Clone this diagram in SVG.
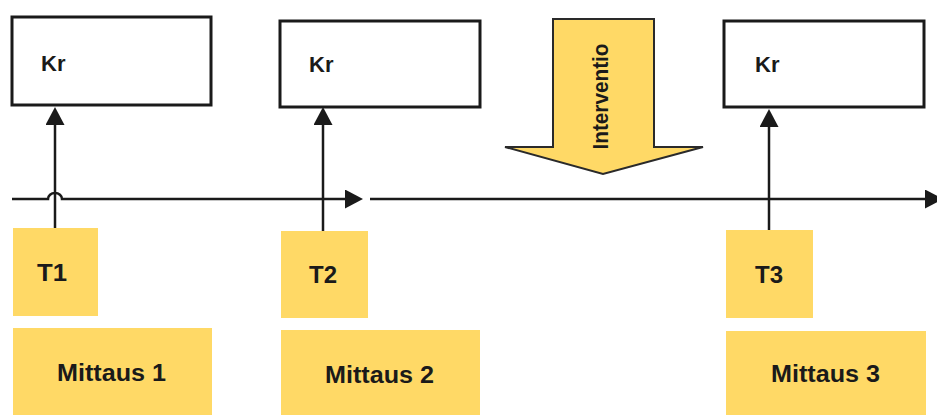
<svg xmlns="http://www.w3.org/2000/svg" width="937" height="415" viewBox="0 0 937 415">
  <style>
    .kr { fill: #ffffff; stroke: #1a1a1a; stroke-width: 3; }
    .tag { fill: #ffd966; stroke: none; }
    .lbl { font-family: "Liberation Sans", Arial, sans-serif; font-weight: bold; font-size: 22px; fill: #1a1a1a; }
    .big { font-size: 23px; }
    .line { fill: none; stroke: #1a1a1a; stroke-width: 2.5; }
    .shape-arrow { fill: #ffd966; stroke: #2a2a2a; stroke-width: 2; stroke-linejoin: miter; }
  </style>
  <defs>
    <marker id="head" markerUnits="userSpaceOnUse" markerWidth="18" markerHeight="19" refX="14" refY="9.5" orient="auto">
      <path d="M0,0 L18,9.5 L0,19 z" fill="#1a1a1a"/>
    </marker>
  </defs>

  <rect width="937" height="415" fill="#ffffff"/>

  <!-- timeline and measurement connectors -->
  <g id="connectors">
    <path class="line" d="M12,199 H48 A7,6 0 0 1 62,199 H359" marker-end="url(#head)"/>
    <path class="line" d="M370,199 H939" marker-end="url(#head)"/>
    <path class="line" d="M55,229 V111" marker-end="url(#head)"/>
    <path class="line" d="M323,232 V111" marker-end="url(#head)"/>
    <path class="line" d="M769,230 V113" marker-end="url(#head)"/>
  </g>

  <!-- outcome boxes -->
  <g id="kr1">
    <rect class="kr" x="12" y="17" width="199" height="88"/>
    <text class="lbl" x="41" y="71">Kr</text>
  </g>
  <g id="kr2">
    <rect class="kr" x="280" y="21" width="200" height="86"/>
    <text class="lbl" x="309" y="72">Kr</text>
  </g>
  <g id="kr3">
    <rect class="kr" x="724" y="21" width="200" height="86"/>
    <text class="lbl" x="755" y="72">Kr</text>
  </g>

  <!-- intervention block arrow -->
  <g id="interventio">
    <polygon class="shape-arrow" points="553,19 654,19 654,147 703,147 603,174 505,147 553,147"/>
    <text class="lbl" font-size="19" text-anchor="middle" textLength="106" lengthAdjust="spacingAndGlyphs" transform="translate(608,96.5) rotate(-90)">Interventio</text>
  </g>

  <!-- time points -->
  <g id="t1">
    <rect class="tag" x="13" y="228" width="85" height="88"/>
    <text class="lbl big" x="37" y="281" textLength="30" lengthAdjust="spacingAndGlyphs">T1</text>
  </g>
  <g id="t2">
    <rect class="tag" x="281" y="231" width="87" height="87"/>
    <text class="lbl big" x="309" y="283" textLength="28" lengthAdjust="spacingAndGlyphs">T2</text>
  </g>
  <g id="t3">
    <rect class="tag" x="726" y="230" width="87" height="88"/>
    <text class="lbl big" x="755" y="283" textLength="28" lengthAdjust="spacingAndGlyphs">T3</text>
  </g>

  <!-- measurement labels -->
  <g id="mittaus1">
    <rect class="tag" x="13" y="328" width="199" height="87"/>
    <text class="lbl big" x="57" y="381" textLength="109" lengthAdjust="spacingAndGlyphs">Mittaus 1</text>
  </g>
  <g id="mittaus2">
    <rect class="tag" x="281" y="330" width="199" height="85"/>
    <text class="lbl big" x="325" y="383" textLength="109" lengthAdjust="spacingAndGlyphs">Mittaus 2</text>
  </g>
  <g id="mittaus3">
    <rect class="tag" x="726" y="331" width="200" height="84"/>
    <text class="lbl big" x="771" y="382" textLength="109" lengthAdjust="spacingAndGlyphs">Mittaus 3</text>
  </g>
</svg>
